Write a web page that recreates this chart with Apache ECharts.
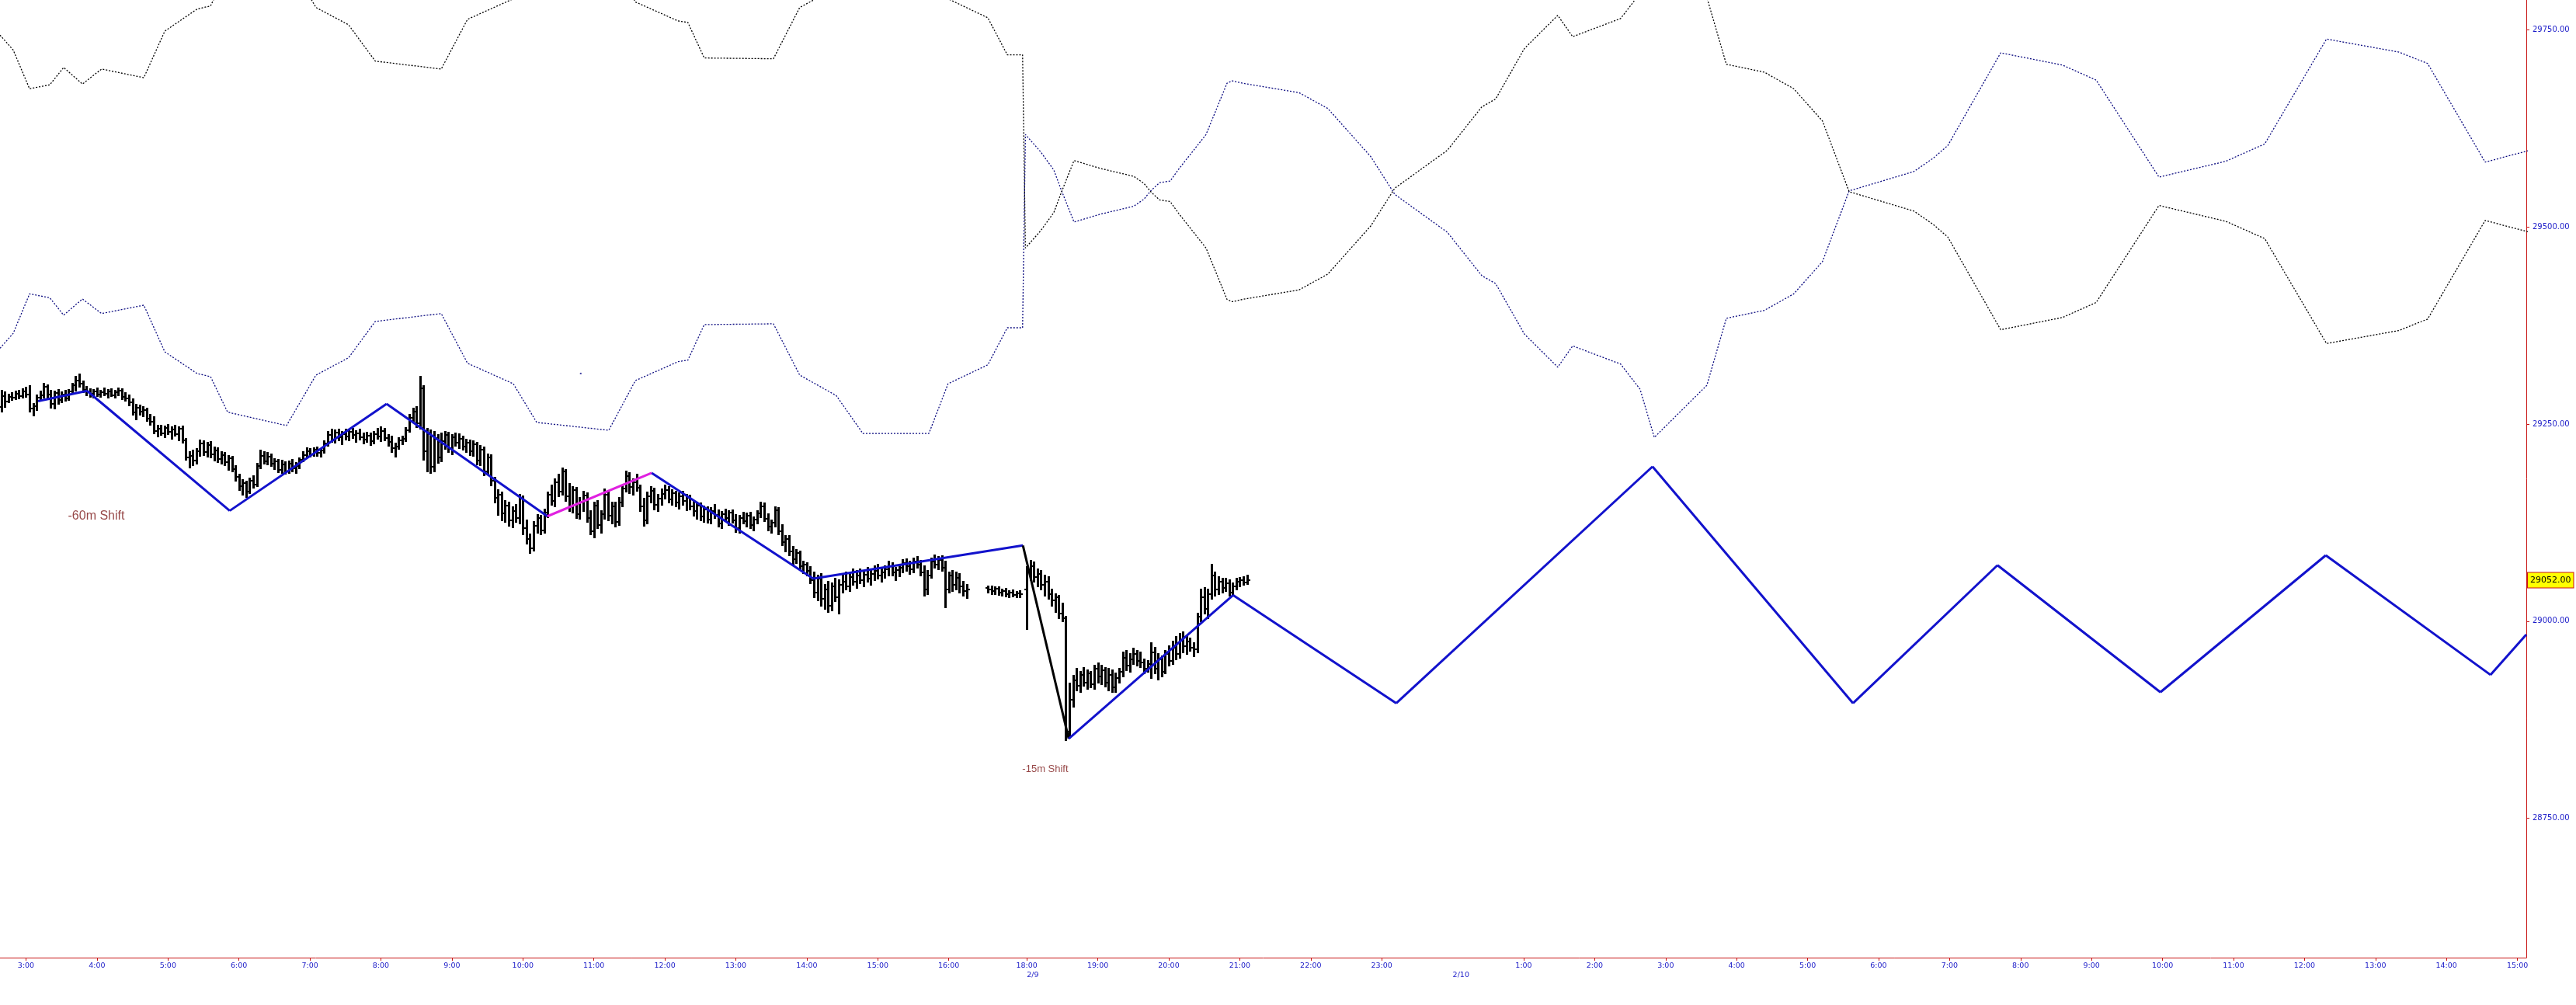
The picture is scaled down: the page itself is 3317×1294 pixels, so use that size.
<!DOCTYPE html>
<html><head><meta charset="utf-8">
<script src="https://cdn.jsdelivr.net/npm/echarts@6/dist/echarts.min.js"></script>
<style>html,body{margin:0;padding:0;background:#fff;}#c{width:3317px;height:1294px;}</style>
</head><body><div id="c"></div>
<script>
// ---------- axis ----------
const tickSlots = [0,20,40,60,80,100,120,140,160,180,200,220,240,260,282,302,322,342,362,382,422,442,462,482,502,522,542,562,582,602,622,642,662,682,702];
const tickLabels = ['3:00','4:00','5:00','6:00','7:00','8:00','9:00','10:00','11:00','12:00','13:00','14:00','15:00','16:00','18:00','19:00','20:00','21:00','22:00','23:00','1:00','2:00','3:00','4:00','5:00','6:00','7:00','8:00','9:00','10:00','11:00','12:00','13:00','14:00','15:00'];
const dateSlots = [282, 402];
const dateLabels = ['2/9', '2/10'];
const priceTicks = [28750, 29000, 29250, 29500, 29750];
const xMin = -7.33, xMax = 704.5, yMin = 28573.5, yMax = 29787.5;

// ---------- 3-minute price bars (slot -7 .. 344) ----------
const barStart = -7;
const barOpen = [29272,29285,29278,29284,29283,29288,29285,29291,
29287,29270,29273,29283,29286,29297,29287,29276,29289,29280,
29287,29282,29291,29299,29305,29301,29293,29290,29288,29291,
29287,29290,29288,29291,29286,29290,29292,29284,29282,29277,
29265,29271,29266,29268,29257,29253,29241,29244,29238,29245,
29240,29243,29237,29244,29229,29208,29210,29204,29215,29225,
29214,29223,29212,29216,29206,29211,29202,29207,29193,29183,
29171,29175,29164,29178,29173,29197,29210,29203,29209,29200,
29203,29192,29199,29190,29200,29194,29197,29205,29211,29215,
29212,29217,29213,29216,29225,29236,29230,29239,29233,29237,
29234,29240,29236,29238,29233,29230,29235,29228,29237,29234,
29241,29232,29227,29219,29221,29229,29231,29242,29258,29266,
29251,29295,29215,29238,29196,29232,29208,29228,29236,29219,
29233,29226,29231,29221,29226,29215,29224,29204,29217,29190,
29208,29178,29156,29160,29137,29147,29128,29140,29131,29155,
29118,29104,29092,29121,29131,29115,29138,29160,29152,29176,
29164,29190,29158,29146,29166,29136,29150,29159,29131,29114,
29147,29122,29136,29160,29134,29146,29126,29150,29168,29184,
29170,29176,29169,29146,29128,29158,29165,29148,29155,29161,
29166,29154,29162,29150,29158,29152,29156,29146,29140,29147,
29133,29142,29129,29140,29135,29124,29136,29131,29138,29128,
29118,29131,29127,29134,29122,29129,29137,29146,29130,29120,
29125,29141,29114,29100,29104,29088,29079,29086,29070,29072,
29064,29052,29036,29054,29028,29040,29020,29044,29030,29046,
29050,29044,29056,29050,29058,29052,29059,29054,29060,29064,
29058,29062,29066,29070,29062,29065,29068,29074,29070,29066,
29076,29072,29062,29040,29058,29076,29072,29078,29068,29040,
29058,29046,29055,29044,29038,null,null,null,null,null,
29042,29040,29038,29041,29036,29038,29034,29036,29033,29035,
null,
29040,29062,29070,29056,29060,29046,29050,29034,29026,29030,
29010,29004,28860,28900,28925,28918,28932,28922,28934,28920,
28940,28930,28938,28922,28932,28916,28928,28936,28954,28944,
28952,28958,28950,28948,28940,28946,28960,28940,28952,28936,
28958,28950,28966,28958,28976,28968,28974,28966,28964,29006,
29030,29016,29034,29058,29040,29050,29042,29048,29036,29044,
29050,29052,29049];
const barHigh = [29292,29290,29287,29289,29291,29292,29294,29296,
29298,29276,29286,29291,29301,29299,29292,29291,29293,29290,
29292,29293,29301,29310,29313,29304,29297,29294,29293,29295,
29292,29295,29293,29294,29292,29295,29294,29289,29286,29281,
29275,29274,29272,29270,29262,29259,29248,29248,29247,29249,
29246,29248,29246,29247,29231,29214,29216,29218,29229,29228,
29226,29227,29220,29219,29214,29213,29210,29209,29197,29186,
29179,29177,29181,29184,29200,29216,29214,29213,29212,29206,
29205,29204,29202,29203,29205,29201,29207,29214,29219,29218,
29219,29220,29218,29228,29240,29243,29242,29243,29240,29243,
29242,29244,29241,29243,29238,29239,29238,29240,29244,29246,
29244,29236,29234,29225,29232,29234,29245,29262,29270,29272,
29310,29298,29244,29242,29240,29236,29238,29240,29239,29236,
29238,29237,29234,29230,29229,29228,29226,29222,29220,29212,
29211,29182,29166,29163,29152,29150,29145,29148,29160,29158,
29128,29110,29126,29135,29134,29142,29163,29172,29180,29186,
29194,29192,29174,29170,29169,29156,29164,29162,29140,29150,
29152,29140,29167,29163,29150,29150,29156,29172,29190,29188,
29180,29186,29172,29155,29163,29170,29168,29160,29167,29172,
29170,29166,29164,29162,29164,29160,29159,29152,29150,29149,
29146,29145,29144,29148,29141,29139,29142,29140,29141,29135,
29134,29138,29137,29138,29132,29140,29150,29149,29136,29128,
29145,29144,29122,29108,29108,29094,29090,29088,29076,29074,
29069,29062,29058,29060,29046,29050,29048,29054,29052,29058,
29062,29060,29066,29064,29066,29062,29068,29064,29070,29072,
29066,29070,29076,29074,29068,29072,29078,29079,29076,29080,
29082,29077,29070,29064,29080,29084,29082,29083,29076,29062,
29064,29062,29060,29050,29046,null,null,null,null,null,
29044,29044,29043,29043,29040,29041,29038,29039,29037,29038,
null,
29069,29077,29075,29066,29064,29058,29056,29040,29034,29032,
29022,29006,28921,28931,28940,28936,28941,28938,28936,28944,
28947,28944,28941,28940,28938,28934,28940,28960,28962,28958,
28965,28962,28960,28952,28950,28972,28966,28958,28956,28962,
28968,28974,28980,28984,28986,28980,28978,28972,29010,29040,
29042,29040,29072,29062,29056,29054,29054,29052,29048,29054,
29055,29056,29058];
const barLow = [29266,29272,29277,29280,29281,29282,29283,29284,
29266,29261,29268,29279,29283,29283,29271,29270,29276,29277,
29279,29280,29288,29292,29297,29290,29286,29284,29283,29285,
29284,29286,29283,29285,29283,29286,29281,29279,29274,29262,
29256,29262,29260,29254,29249,29238,29234,29236,29233,29237,
29231,29235,29229,29226,29205,29195,29198,29200,29210,29211,
29209,29208,29204,29202,29200,29198,29192,29190,29178,29166,
29160,29157,29162,29169,29171,29194,29200,29199,29197,29193,
29189,29188,29187,29188,29190,29188,29194,29203,29208,29209,
29210,29210,29209,29213,29222,29227,29226,29229,29224,29230,
29229,29232,29227,29230,29225,29227,29223,29225,29231,29228,
29229,29222,29214,29209,29218,29224,29228,29240,29253,29246,
29244,29205,29190,29188,29190,29201,29203,29218,29214,29212,
29222,29219,29217,29214,29211,29210,29199,29198,29185,29186,
29172,29150,29135,29128,29126,29121,29119,29126,29124,29110,
29098,29086,29089,29112,29110,29112,29132,29148,29146,29158,
29160,29152,29140,29138,29131,29130,29140,29126,29110,29106,
29118,29112,29130,29128,29124,29120,29122,29146,29164,29162,
29160,29165,29140,29121,29124,29150,29142,29140,29148,29155,
29150,29148,29146,29143,29148,29141,29142,29134,29130,29128,
29126,29125,29124,29131,29120,29118,29128,29122,29125,29113,
29112,29124,29120,29118,29115,29124,29132,29127,29115,29112,
29120,29110,29096,29088,29084,29072,29074,29066,29061,29058,
29048,29030,29026,29020,29016,29012,29014,29025,29010,29036,
29040,29038,29046,29042,29048,29044,29050,29046,29052,29054,
29050,29055,29058,29058,29052,29057,29062,29064,29060,29062,
29068,29058,29032,29034,29055,29068,29066,29064,29018,29036,
29038,29040,29036,29032,29029,null,null,null,null,null,
29036,29034,29034,29033,29032,29031,29030,29031,29030,29030,
null,
28990,29052,29050,29044,29040,29032,29028,29020,29012,29004,
29000,28849,28852,28892,28912,28910,28918,28914,28916,28914,
28922,28920,28917,28912,28910,28910,28922,28930,28938,28936,
28946,28944,28942,28934,28936,28928,28934,28926,28930,28934,
28944,28946,28952,28954,28960,28958,28962,28956,28960,29000,
29010,29004,29028,29032,29034,29036,29038,29032,29032,29040,
29044,29046,29047];
const barClose = [29285,29278,29284,29283,29288,29285,29291,29287,
29270,29273,29283,29286,29297,29287,29276,29289,29280,29287,
29282,29291,29299,29305,29301,29293,29290,29288,29291,29287,
29290,29288,29291,29286,29290,29292,29284,29282,29277,29265,
29271,29266,29268,29257,29253,29241,29244,29238,29245,29240,
29243,29237,29244,29229,29208,29210,29204,29215,29225,29214,
29223,29212,29216,29206,29211,29202,29207,29193,29183,29171,
29175,29164,29178,29173,29197,29210,29203,29209,29200,29203,
29192,29199,29190,29200,29194,29197,29205,29211,29215,29212,
29217,29213,29216,29225,29236,29230,29239,29233,29237,29234,
29240,29236,29238,29233,29230,29235,29228,29237,29234,29241,
29232,29227,29219,29221,29229,29231,29242,29258,29266,29251,
29295,29215,29238,29196,29232,29208,29228,29236,29219,29233,
29226,29231,29221,29226,29215,29224,29204,29217,29190,29208,
29178,29156,29160,29137,29147,29128,29140,29131,29155,29118,
29104,29092,29121,29131,29115,29138,29160,29152,29176,29164,
29190,29158,29146,29166,29136,29150,29159,29131,29114,29147,
29122,29136,29160,29134,29146,29126,29150,29168,29184,29170,
29176,29169,29146,29128,29158,29165,29148,29155,29161,29166,
29154,29162,29150,29158,29152,29156,29146,29140,29147,29133,
29142,29129,29140,29135,29124,29136,29131,29138,29128,29118,
29131,29127,29134,29122,29129,29137,29146,29130,29120,29125,
29141,29114,29100,29104,29088,29079,29086,29070,29072,29064,
29052,29036,29054,29028,29040,29020,29044,29030,29046,29050,
29044,29056,29050,29058,29052,29059,29054,29060,29064,29058,
29062,29066,29070,29062,29065,29068,29074,29070,29066,29076,
29072,29062,29040,29058,29076,29072,29078,29068,29040,29058,
29046,29055,29044,29038,29040,null,null,null,null,null,
29040,29038,29041,29036,29038,29034,29036,29033,29035,29034,
null,
29062,29070,29056,29060,29046,29050,29034,29026,29030,29010,
29004,28860,28900,28925,28918,28932,28922,28934,28920,28940,
28930,28938,28922,28932,28916,28928,28936,28954,28944,28952,
28958,28950,28948,28940,28946,28960,28940,28952,28936,28958,
28950,28966,28958,28976,28968,28974,28966,28964,29006,29030,
29016,29034,29058,29040,29050,29042,29048,29036,29044,29050,
29052,29049,29052];
const lastPrice = 29052;

// ---------- zigzag ----------
const zigSlots  = [3.4, 17.2, 57.4, 101.6, 146.9, 176.3, 221.8, 280.9, 293.8, 340.1, 386.1, 458.3, 514.8, 555.5, 601.4, 648, 694.4, 704.5];
const zigValues = [29279, 29292, 29140, 29275.5, 29133, 29188, 29054, 29096, 28851, 29033, 28896, 29196, 28896, 29071, 28910, 29083.5, 28932, 28983];
const zigSegKind = ['b','b','b','b','m','b','b','k','b','b','b','b','b','b','b','b','b'];

// ---------- dotted bands ----------
const bandSlots = [-7.33,-3.6,1.0,6.7,10.6,15.9,21.3,33.2,39.1,48.2,52,56.8,73.4,81.7,90.9,98.4,117,124.4,137.3,143.9,164.2,171.7,183.7,186.5,191.1,210.6,218,228.3,235.8,254.4,259.8,271,276.5,280.8,
281.6,285.9,289.6,291.8,295.3,302.7,312.1,315,316.9,319.4,322.4,324.6,332.5,338.4,339.9,342.8,358.7,366.8,378.9,385.7,400.5,410.2,414.1,422.2,431.6,435.8,449.3,454.8,458.8,473.6,479.1,489.8,498.1,506.2,513.7,531.9,537.4,541.5,556.4,573.8,583.3,601,619.8,630.8,648.2,668.6,676.7,692.9,705.1];
const bandBlue = [29346,29365,29415,29410,29388,29408.5,29390,29400.6,29341.5,29314,29310,29265,29248,29312,29334,29380,29390,29327,29301,29252,29242,29305,29329,29331,29376,29377,29312,29286,29238,29238,29301,29325,29372,29372,
29617,29595,29572,29545.5,29506,29516,29526,29535,29545.5,29556,29558,29572,29617,29682,29685,29682,29670,29650,29589,29541,29493,29438,29428,29364,29322,29349,29326,29294,29233,29299,29384,29394,29415,29456,29545.5,29570,29587,29603,29720.5,29705,29686,29563,29583,29605,29738,29721.5,29707,29582,29596.5];
const bandBlack = [29743,29724,29675,29680,29702,29681,29700,29689,29748,29776,29780,29825,29842,29778,29756,29710,29700,29763,29789,29838,29848,29785,29761,29759,29714,29713,29778,29803,29852,29852,29789,29765,29718,29718,
29473,29495,29518,29544.5,29584,29574,29564,29555,29544.5,29534,29532,29518,29473,29408,29405,29408,29420,29440,29501,29549,29597,29652,29662,29726,29768,29741,29764,29796,29857,29791,29706,29696,29675,29634,29544.5,29520,29503,29487,29369.5,29385,29404,29527,29507,29485,29352,29368.5,29383,29508,29493.5];
const dotSlot = [156.3], dotValue = [29314];

// ---------- notes ----------
const noteSlots = [19.8, 287.2];
const noteValues = [29133, 28812];
const noteTexts = ['-60m Shift', '-15m Shift'];
const noteSizes = [16, 13];

// ================= build =================
const RED = '#c81414', AXBLUE = '#1a1ac8';
const bars = [];
for (let i = 0; i < barOpen.length; i++) {
  if (barOpen[i] == null) continue;
  bars.push([barStart + i, barOpen[i], barHigh[i], barLow[i], barClose[i]]);
}
const segColors = { b: '#1212cc', m: '#e020e0', k: '#000000' };
const series = [];
series.push({ type: 'line', data: bandSlots.map((s, i) => [s, bandBlue[i]]), showSymbol: false, silent: true,
  lineStyle: { color: '#0c0c80', width: 1.3, type: [2, 2] }, z: 1 });
series.push({ type: 'line', data: bandSlots.map((s, i) => [s, bandBlack[i]]), showSymbol: false, silent: true,
  lineStyle: { color: '#000000', width: 1.3, type: [2, 2] }, z: 1 });
series.push({ type: 'scatter', data: dotSlot.map((s, i) => [s, dotValue[i]]), symbol: 'rect', symbolSize: 2,
  itemStyle: { color: '#10108a' }, silent: true, z: 1 });
series.push({
  type: 'custom', data: bars, z: 3, silent: true, encode: { x: 0, y: [2, 3] },
  renderItem: function (p, api) {
    const x = api.value(0);
    const pH = api.coord([x, api.value(2)]), pL = api.coord([x, api.value(3)]);
    const pO = api.coord([x, api.value(1)]), pC = api.coord([x, api.value(4)]);
    const px = Math.round(pH[0]) + 0.5;
    const yO = Math.round(pO[1]), yC = Math.round(pC[1]);
    return { type: 'group', children: [
      { type: 'line', shape: { x1: px, y1: Math.round(pH[1]) - 1, x2: px, y2: Math.round(pL[1]) + 1 }, style: { stroke: '#000', lineWidth: 3 } },
      { type: 'line', shape: { x1: px - 3.5, y1: yO, x2: px, y2: yO }, style: { stroke: '#000', lineWidth: 2 } },
      { type: 'line', shape: { x1: px, y1: yC, x2: px + 3.5, y2: yC }, style: { stroke: '#000', lineWidth: 2 } }
    ] };
  }
});
for (let i = 0; i < zigSlots.length - 1; i++) {
  series.push({ type: 'line', data: [[zigSlots[i], zigValues[i]], [zigSlots[i + 1], zigValues[i + 1]]],
    showSymbol: false, silent: true, z: 5, lineStyle: { color: segColors[zigSegKind[i]], width: 3 } });
}
series.push({ type: 'scatter', symbolSize: 0, silent: true, z: 6,
  data: noteSlots.map((s, i) => ({ value: [s, noteValues[i]],
    label: { show: true, position: 'inside', formatter: noteTexts[i], color: '#7a1616',
      fontFamily: 'Liberation Sans', fontSize: noteSizes[i] } })) });
series.push({ type: 'custom', data: [[xMax, lastPrice]], silent: true, z: 10, clip: false,
  renderItem: function (p, api) {
    const pt = api.coord([api.value(0), api.value(1)]);
    return { type: 'text', x: pt[0] + 2, y: Math.round(pt[1]), style: {
      text: api.value(1).toFixed(2), fill: '#000', backgroundColor: '#ffff00', borderColor: RED, borderWidth: 1,
      padding: [4, 3, 4, 3], font: '11px DejaVu Sans', verticalAlign: 'middle', align: 'left' } };
  } });

const chart = echarts.init(document.getElementById('c'), null, { renderer: 'canvas' });
chart.setOption({
  animation: false,
  backgroundColor: '#ffffff',
  grid: { left: 0, right: 64, top: 0, bottom: 61, containLabel: false },
  xAxis: [{
    type: 'value', min: xMin, max: xMax, position: 'bottom',
    axisLine: { show: true, onZero: false, lineStyle: { color: RED, width: 1 } },
    axisTick: { show: true, length: 4, customValues: tickSlots, lineStyle: { color: RED } },
    axisLabel: { customValues: tickSlots, margin: 6, color: AXBLUE, fontFamily: 'DejaVu Sans', fontSize: 9.5,
      formatter: v => { const k = tickSlots.indexOf(v); return k >= 0 ? tickLabels[k] : ''; } },
    splitLine: { show: false }
  }, {
    type: 'value', min: xMin, max: xMax, position: 'bottom',
    axisLine: { show: false }, axisTick: { show: false },
    axisLabel: { customValues: dateSlots, margin: 18, align: 'left', color: AXBLUE, fontFamily: 'DejaVu Sans', fontSize: 9.5,
      formatter: v => { const k = dateSlots.indexOf(v); return k >= 0 ? dateLabels[k] : ''; } },
    splitLine: { show: false }
  }],
  yAxis: {
    type: 'value', min: yMin, max: yMax, position: 'right',
    axisLine: { show: true, onZero: false, lineStyle: { color: RED, width: 1 } },
    axisTick: { show: true, length: 4, customValues: priceTicks, lineStyle: { color: RED } },
    axisLabel: { customValues: priceTicks, margin: 8, color: AXBLUE, fontFamily: 'DejaVu Sans', fontSize: 10,
      formatter: v => v.toFixed(2) },
    splitLine: { show: false }
  },
  series: series
});
</script></body></html>
